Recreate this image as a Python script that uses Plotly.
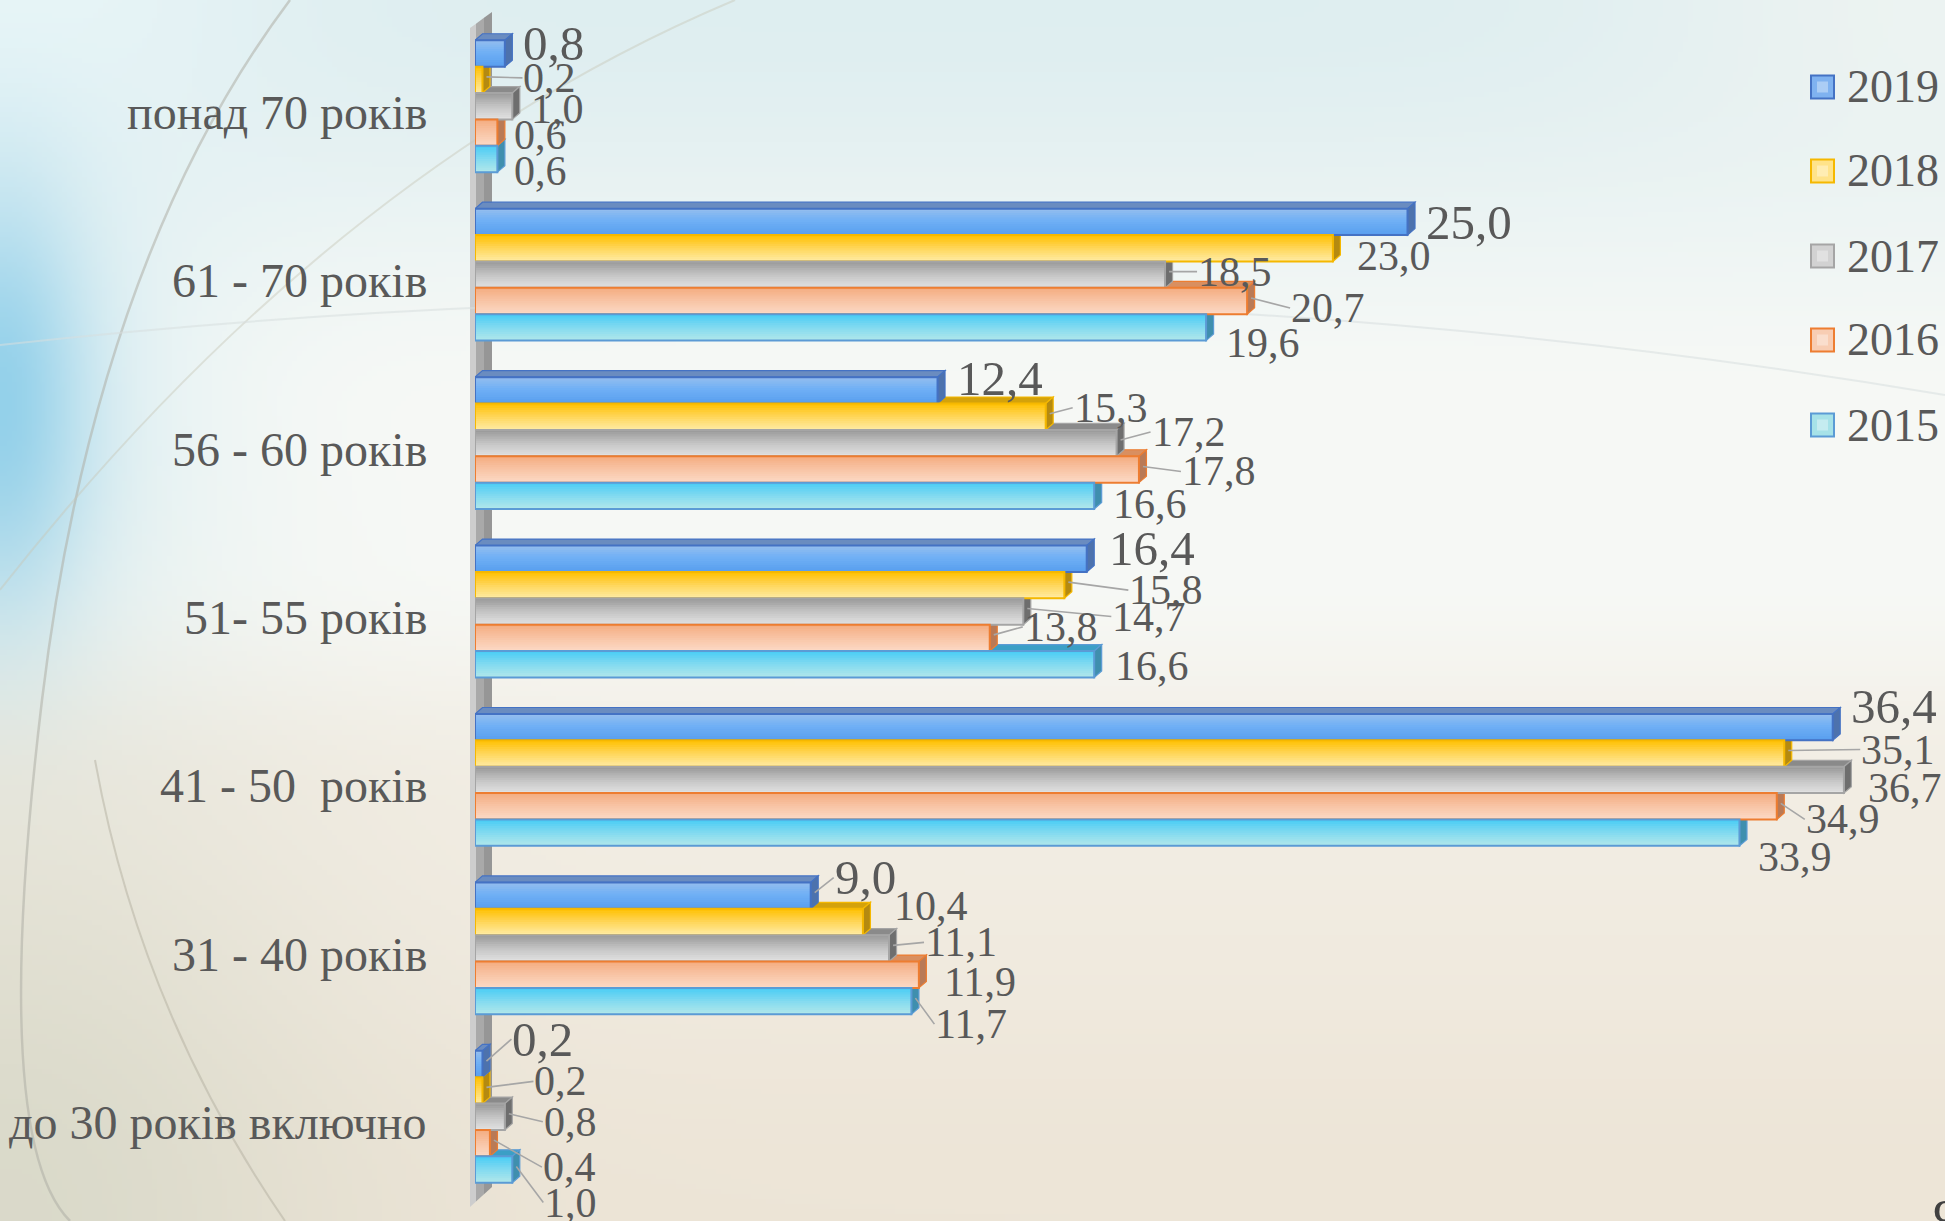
import base64
import struct
import zlib

import numpy as np
import plotly.graph_objects as go

# ---------------------------------------------------------------- data
categories = ["до 30 років включно", "31 - 40 років", "41 - 50  років",
              "51- 55 років", "56 - 60 років", "61 - 70 років", "понад 70 років"]
years = ["2019", "2018", "2017", "2016", "2015"]
v2019 = [0.2, 9.0, 36.4, 16.4, 12.4, 25.0, 0.8]
v2018 = [0.2, 10.4, 35.1, 15.8, 15.3, 23.0, 0.2]
v2017 = [0.8, 11.1, 36.7, 14.7, 17.2, 18.5, 1.0]
v2016 = [0.4, 11.9, 34.9, 13.8, 17.8, 20.7, 0.6]
v2015 = [1.0, 11.7, 33.9, 16.6, 16.6, 19.6, 0.6]
series = {"2019": v2019, "2018": v2018, "2017": v2017, "2016": v2016, "2015": v2015}

# ---------------------------------------------------------------- geometry / style
W, H = 1945, 1221
ML, MR, MT, MB = 475, 26, 22, 20
PW, PH = W - ML - MR, H - MT - MB
PX_PER_UNIT = 37.3
XMAX = PW / PX_PER_UNIT
PITCH = PH / len(categories)          # px per category
GROUP = 0.783                          # share of a category occupied by the bars
BW = GROUP / len(years)                # single bar thickness (category units)
DX = 7.5 / PX_PER_UNIT                 # 3-D depth, x
DY = 6.5 / PITCH                       # 3-D depth, y
BANDS = 12
FONT = "Liberation Serif, Times New Roman, serif"
TXT = "#595959"

style = {
    "2019": dict(stops=[(0, (150, 190, 238)), (0.45, (112, 176, 245)), (1, (88, 158, 238))],
                 line="#4472c4", top="#6a8cc0", side="#4d72ad", key="#7fb2f0"),
    "2018": dict(stops=[(0, (255, 192, 0)), (0.5, (255, 214, 90)), (1, (255, 236, 165))],
                 line="#f5b800", top="#d4a20a", side="#b58a10", key="#ffe38a"),
    "2017": dict(stops=[(0, (152, 152, 152)), (0.5, (196, 196, 196)), (1, (226, 226, 226))],
                 line="#a5a5a5", top="#8a8a8a", side="#6e6e6e", key="#d2d2d2"),
    "2016": dict(stops=[(0, (244, 172, 128)), (0.5, (248, 196, 165)), (1, (252, 218, 198))],
                 line="#ed7d31", top="#d98f60", side="#b97a56", key="#f8cdb3"),
    "2015": dict(stops=[(0, (72, 204, 245)), (0.5, (130, 218, 240)), (1, (178, 232, 234))],
                 line="#5b9bd5", top="#3b9fc6", side="#3f8fae", key="#a6e2e8"),
}

# label placement: (text-left offset from bar end px, vertical offset px, leader line)
label_place = {
    "2019": [(29, -25, 1), (23, -18, 1), (17, -21, 0), (21, -10, 0), (18, -12, 0), (17, 1, 0), (17, -10, 0)],
    "2018": [(51, -9, 1), (30, -16, 0), (76, -4, 1), (64, 5, 1), (27, -9, 1), (23, 8, 0), (40, -2, 1)],
    "2017": [(38, 5, 1), (35, -6, 1), (23, 8, 0), (88, 5, 1), (34, -11, 1), (32, -3, 1), (18, 3, 0)],
    "2016": [(52, 24, 1), (24, 7, 0), (28, 13, 1), (33, -11, 1), (42, 2, 1), (43, 7, 1), (16, 2, 0)],
    "2015": [(31, 33, 1), (23, 23, 1), (18, 24, 0), (20, 2, 0), (18, 8, 0), (19, 16, 0), (16, 12, 0)],
}


def px2xp(px):
    return (px - ML) / PW


def py2yp(py):
    return (H - MB - py) / PH


def lerp_stops(stops, t):
    for (t0, c0), (t1, c1) in zip(stops[:-1], stops[1:]):
        if t <= t1:
            f = (t - t0) / (t1 - t0)
            return tuple(int(round(a + (b - a) * f)) for a, b in zip(c0, c1))
    return stops[-1][1]


# ---------------------------------------------------------------- slide background
def make_png(img):
    h, w, _ = img.shape
    raw = b"".join(b"\x00" + img[r].tobytes() for r in range(h))

    def chunk(tag, data):
        body = tag + data
        return struct.pack(">I", len(data)) + body + struct.pack(">I", zlib.crc32(body) & 0xFFFFFFFF)

    return (b"\x89PNG\r\n\x1a\n" + chunk(b"IHDR", struct.pack(">IIBBBBB", w, h, 8, 2, 0, 0, 0))
            + chunk(b"IDAT", zlib.compress(raw, 9)) + chunk(b"IEND", b""))


def background():
    w, h = 390, 245
    X, Y = np.meshgrid((np.arange(w) + 0.5) * W / w, (np.arange(h) + 0.5) * H / h)
    img = np.zeros((h, w, 3)) + np.array([247, 249, 246], float)

    def blend(weight, col):
        nonlocal img
        weight = np.clip(weight, 0, 1)[..., None]
        img = img * (1 - weight) + np.array(col, float) * weight

    def smooth(a, b, v):
        t = np.clip((v - a) / (b - a), 0, 1)
        return t * t * (3 - 2 * t)

    blend((1 - smooth(0, 420, Y)) * 0.9, (220, 237, 240))
    blend(smooth(560, 820, Y), (242, 237, 227))
    blend(smooth(800, 1221, Y), (237, 229, 215))
    blend(0.6 * np.exp(-(((X - 1945) / 320) ** 2 + (Y / 220) ** 2)), (246, 247, 243))
    blend(0.7 * np.exp(-((X / 260) ** 2 + (Y / 200) ** 2)), (238, 249, 250))
    blend(0.9 * np.exp(-1.3 * ((X / 95) ** 2 + ((Y - 410) / 220) ** 2)), (108, 192, 230))
    blend(0.4 * np.exp(-((X / 210) ** 2 + ((Y - 430) / 270) ** 2)), (185, 226, 240))
    blend(0.75 * np.exp(-(((X) / 330) ** 2 + ((Y - 1221) / 430) ** 2)), (212, 214, 198))
    return "data:image/png;base64," + base64.b64encode(make_png(img.astype(np.uint8))).decode()


# ---------------------------------------------------------------- figure
fig = go.Figure()
positions = list(range(len(categories)))
shapes = []
annotations = []

for k, year in enumerate(years):                       # k = 0 is the topmost bar of a group
    vals = series[year]
    st = style[year]
    top_off = GROUP / 2 - k * BW                        # top edge relative to category centre
    bottom_off = top_off - BW
    band_h = BW / BANDS
    # gradient: each band runs from its own top edge down to the bar bottom
    for j in range(BANDS):
        c = lerp_stops(st["stops"], (j + 0.5) / BANDS)
        fig.add_trace(go.Bar(
            x=vals, y=positions, orientation="h", width=BW - j * band_h,
            offset=bottom_off, marker=dict(color=f"rgb{c}", line=dict(width=0)),
            hoverinfo="skip", showlegend=False))
    fig.add_trace(go.Bar(
        x=vals, y=positions, orientation="h", name=year, width=BW, offset=bottom_off,
        marker=dict(color="rgba(0,0,0,0)", line=dict(color=st["line"], width=2)),
        customdata=categories, hovertemplate="%{customdata}<br>" + year + ": %{x}<extra></extra>",
        showlegend=False))

# 3-D faces, drawn from the lowest bar of each group upwards so upper bars hide them
for k in reversed(range(len(years))):
    year = years[k]
    st = style[year]
    for p, v in zip(positions, series[year]):
        yt = p + GROUP / 2 - k * BW
        yb = yt - BW
        shapes.append(dict(
            type="path", xref="x", yref="y", layer="below",
            path=f"M0,{yt} L{v},{yt} L{v + DX},{yt + DY} L{DX},{yt + DY} Z",
            fillcolor=st["top"], line=dict(color=st["line"], width=1.2)))
        shapes.append(dict(
            type="path", xref="x", yref="y", layer="below",
            path=f"M{v},{yb} L{v + DX},{yb + DY} L{v + DX},{yt + DY} L{v},{yt} Z",
            fillcolor=st["side"], line=dict(color=st["line"], width=1.2)))

# back wall behind the category axis
wall = [(470, 476, "#cdcdcd"), (476, 484, "#a9a9a9"), (484, 492, "#969696")]
for x0, x1, col in wall:
    ya0 = 28 - (x0 - 470) * 16 / 22
    ya1 = 28 - (x1 - 470) * 16 / 22
    yb0 = 1207 - (x0 - 470) * 20 / 22
    yb1 = 1207 - (x1 - 470) * 20 / 22
    shapes.append(dict(
        type="path", xref="paper", yref="paper", layer="below",
        path=(f"M{px2xp(x0)},{py2yp(ya0)} L{px2xp(x1)},{py2yp(ya1)} "
              f"L{px2xp(x1)},{py2yp(yb1)} L{px2xp(x0)},{py2yp(yb0)} Z"),
        fillcolor=col, line=dict(width=0)))

# category names
for p, name in zip(positions, categories):
    annotations.append(dict(x=px2xp(429), y=p, xref="paper", yref="y", text=name.replace("  ", "&nbsp; "),
                            showarrow=False, xanchor="right", yanchor="middle", yshift=-6,
                            font=dict(family=FONT, size=48, color=TXT)))

# value labels
for k, year in enumerate(years):
    big = year == "2019"
    for p, v, (tx, ty, leader) in zip(positions, series[year], label_place[year]):
        yc = p + GROUP / 2 - (k + 0.5) * BW
        annotations.append(dict(
            x=v, y=yc, xref="x", yref="y", text=f"{v:.1f}".replace(".", ","),
            showarrow=True, arrowhead=0, arrowwidth=1.6, standoff=0, startstandoff=0,
            arrowcolor="#a6a6a6" if leader else "rgba(0,0,0,0)",
            xshift=4, yshift=3, ax=tx - 4, ay=ty + 3, xanchor="left", yanchor="middle",
            borderpad=0, font=dict(family=FONT, size=49 if big else 42, color=TXT)))

# legend keys
legend_y = [87, 171, 256, 340, 425]
for year, cy in zip(years, legend_y):
    st = style[year]
    shapes.append(dict(type="rect", xref="paper", yref="paper", layer="above",
                       x0=px2xp(1811), x1=px2xp(1834), y0=py2yp(cy + 11.5), y1=py2yp(cy - 11.5),
                       fillcolor=st["key"], line=dict(color=st["line"], width=2)))
    shapes.append(dict(type="rect", xref="paper", yref="paper", layer="above",
                       x0=px2xp(1817), x1=px2xp(1828), y0=py2yp(cy + 5.5), y1=py2yp(cy - 5.5),
                       fillcolor="rgba(255,255,255,0.35)", line=dict(width=0)))
    annotations.append(dict(x=px2xp(1845), y=py2yp(cy), xref="paper", yref="paper", text=year,
                            showarrow=False, xanchor="left", yanchor="middle",
                            font=dict(family=FONT, size=46, color=TXT)))

# decorative slide curves
curves = [
    ("M290,0 Q95,260 42,700 T70,1221", "rgba(175,175,165,0.55)", 2.5),
    ("M735,0 Q330,170 0,590", "rgba(200,200,185,0.45)", 2),
    ("M95,760 Q140,1010 285,1221", "rgba(180,175,160,0.5)", 2),
    ("M0,345 Q1000,235 1945,395", "rgba(215,222,222,0.55)", 2),
]
for d, col, wdt in curves:
    pts = d.replace("M", " M ").replace("Q", " Q ").replace("T", " T ").split()
    out = []
    for tok in pts:
        if "," in tok:
            a, b = tok.split(",")
            out.append(f"{px2xp(float(a)):.5f},{py2yp(float(b)):.5f}")
        else:
            out.append(tok)
    shapes.append(dict(type="path", xref="paper", yref="paper", layer="below",
                       path=" ".join(out), line=dict(color=col, width=wdt)))

# slide number
annotations.append(dict(x=px2xp(1931), y=py2yp(1188), xref="paper", yref="paper", text="9",
                        showarrow=False, xanchor="left", yanchor="top",
                        font=dict(family=FONT, size=52, color="#404040")))

fig.update_layout(
    width=W, height=H, margin=dict(l=ML, r=MR, t=MT, b=MB),
    barmode="overlay", showlegend=False,
    paper_bgcolor="#f2efe6", plot_bgcolor="rgba(0,0,0,0)",
    xaxis=dict(range=[0, XMAX], visible=False, fixedrange=True),
    yaxis=dict(range=[-0.5, len(categories) - 0.5], tickvals=positions, ticktext=categories,
               showticklabels=False, showgrid=False, zeroline=False, showline=False, ticks=""),
    shapes=shapes, annotations=annotations,
    images=[dict(source=background(), xref="paper", yref="paper", x=px2xp(0), y=py2yp(0),
                 sizex=W / PW, sizey=H / PH, xanchor="left", yanchor="top",
                 sizing="stretch", layer="below")],
)

fig.write_html("out.html")
